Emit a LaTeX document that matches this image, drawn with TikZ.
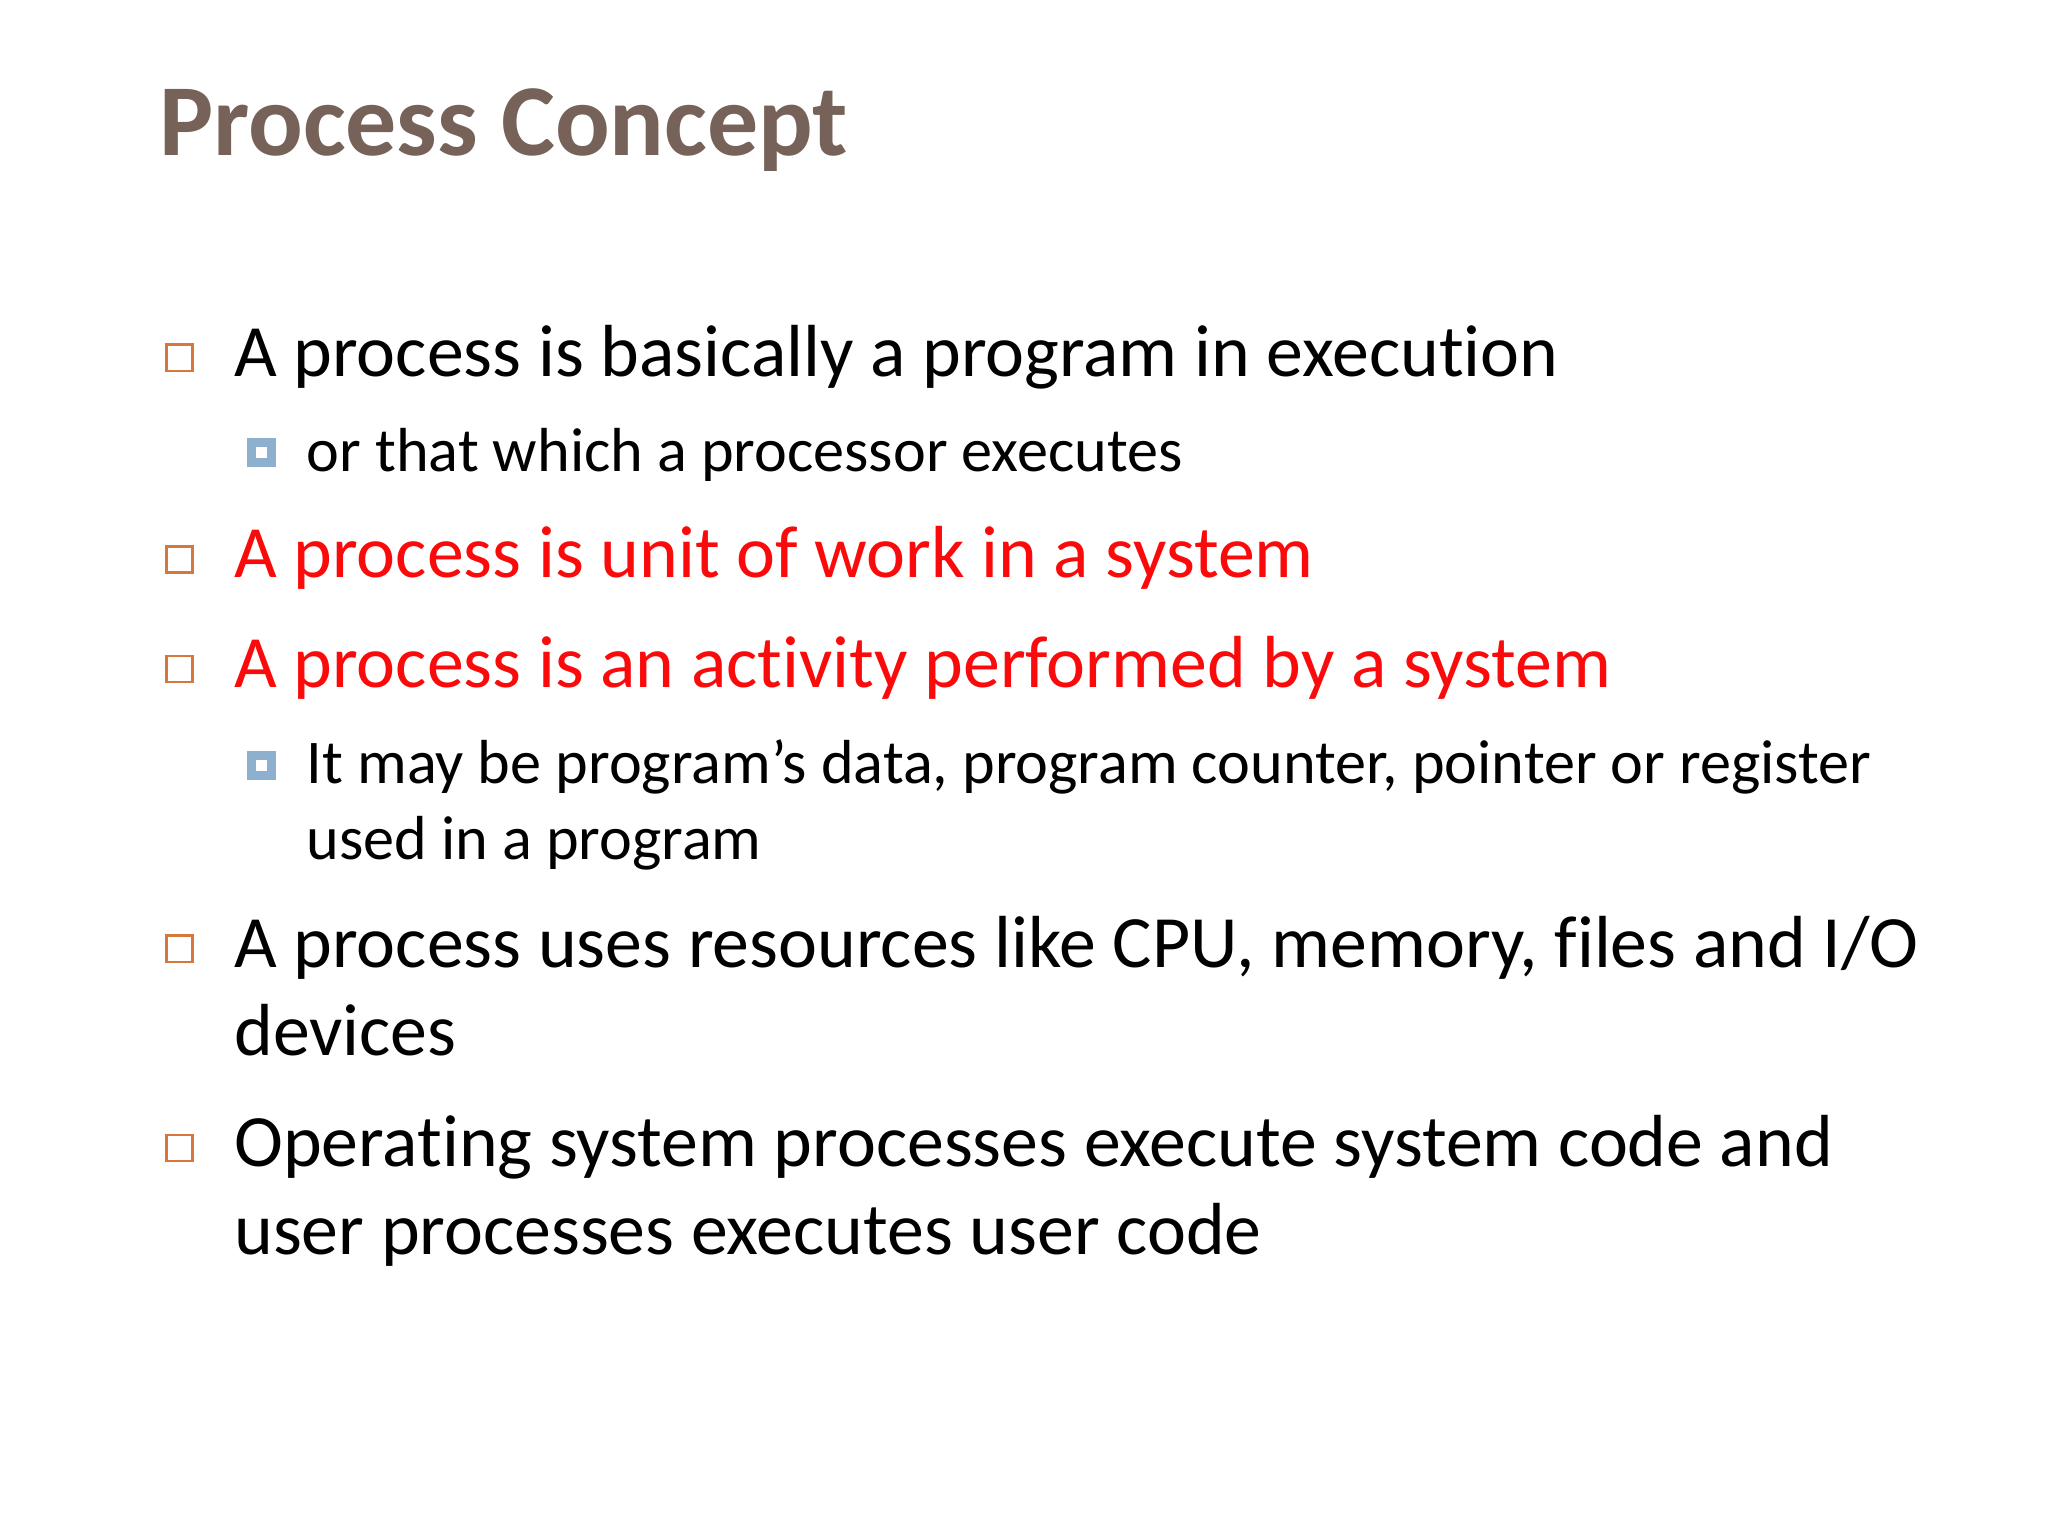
\documentclass[tikz,border=0pt]{standalone}
\usepackage{fontspec}
\setmainfont[Ligatures=NoCommon]{Carlito}
\definecolor{titlec}{RGB}{118,98,88}
\definecolor{bulo}{RGB}{214,120,60}
\definecolor{bulb}{RGB}{140,176,206}
\definecolor{redt}{RGB}{250,10,10}
\begin{document}
\begin{tikzpicture}[x=0.013196cm,y=-0.013196cm,
  mtxt/.style={anchor=base west,inner sep=0pt,font=\fontsize{21}{26}\selectfont},
  stxt/.style={anchor=base west,inner sep=0pt,font=\fontsize{17.7}{21}\selectfont},
  ]
\useasboundingbox[fill=white] (0,0) rectangle (1552,1164);
\node[anchor=base west,inner sep=0pt,text=titlec,font=\fontsize{29}{35}\selectfont\bfseries] (title) at (120,118) {Process Concept};
\newcommand\obul[1]{\draw[bulo,line width=0.7pt] (126,#1-10) rectangle (146,#1+10);}
\newcommand\bbul[1]{\fill[bulb] (187,#1-11) rectangle (209,#1+11);\fill[white] (194,#1-4) rectangle (202,#1+4);}
\obul{271}\node[mtxt] (l1) at (177,285) {A process is basically a program in execution};
\bbul{343}\node[stxt] (s1) at (232,357) {or that which a processor executes};
\obul{424}\node[mtxt,text=redt] (l2) at (177,438) {A process is unit of work in a system};
\obul{507}\node[mtxt,text=redt] (l3) at (177,521) {A process is an activity performed by a system};
\bbul{580}\node[stxt] (s2) at (232,594) {It may be program’s data, program counter, pointer or register};
\node[stxt] (s2b) at (232,651) {used in a program};
\obul{719}\node[mtxt] (l4) at (177,733) {A process uses resources like CPU, memory, files and I/O};
\node[mtxt] (l4b) at (177,800) {devices};
\obul{870}\node[mtxt] (l5) at (177,884) {Operating system processes execute system code and};
\node[mtxt] (l5b) at (177,951) {user processes executes user code};
\end{tikzpicture}
\end{document}
